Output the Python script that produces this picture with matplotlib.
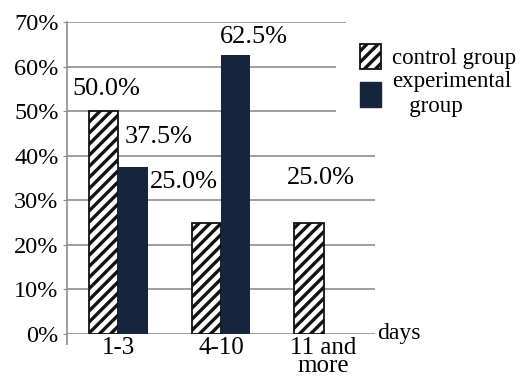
import matplotlib
matplotlib.use("Agg")
import matplotlib.pyplot as plt
from matplotlib.patches import Patch
import numpy as np

categories = ["1-3", "4-10", "11 and\nmore"]
control = [50.0, 25.0, 25.0]
experimental = [37.5, 62.5, 0.0]
control_labels = ["50.0%", "25.0%", "25.0%"]
experimental_labels = ["37.5%", "62.5%", None]
yticks = [0, 10, 20, 30, 40, 50, 60, 70]

plt.rcParams['font.family'] = ['Liberation Serif', 'DejaVu Serif']
plt.rcParams['hatch.linewidth'] = 2.4
plt.rcParams['hatch.color'] = '#14223a'

fig = plt.figure(figsize=(5.32, 3.84), dpi=100)
ax = fig.add_axes([67/532, 50/384, 308/532, 312/384])

navy = '#14253d'
x = np.arange(len(categories))
w = 0.285

ax.bar(x - w/2, control, width=w, color='white', edgecolor='#111111',
       linewidth=1.3, hatch='///', zorder=3)
ax.bar(x + w/2, experimental, width=w, color=navy, edgecolor=navy,
       linewidth=0, zorder=3)

# gridlines
grid_xmax = {0: 2.5, 10: 2.5, 20: 2.5, 30: 2.5, 40: 2.5, 50: 2.12, 60: 2.12, 70: 2.22}
for yv in yticks:
    ax.hlines(yv, -0.5, grid_xmax[yv], color='#8c8c8c', linewidth=1.2, zorder=1)

ax.set_xlim(-0.5, 2.5)
ax.set_ylim(0, 70)
ax.set_yticks(yticks)
ax.set_yticklabels([f"{v}%" for v in yticks], fontsize=17.5)
ax.set_xticks(x)
ax.set_xticklabels(categories, fontsize=18, linespacing=0.75)
ax.tick_params(axis='x', length=0, pad=2)
ax.tick_params(axis='y', length=3, color='#8c8c8c', pad=3)
ax.set_xticks([-0.5], minor=True)
ax.tick_params(axis='x', which='minor', length=8, color='#8c8c8c', width=1.2)

for s in ['top', 'right', 'bottom']:
    ax.spines[s].set_visible(False)
ax.spines['left'].set_color('#8c8c8c')
ax.spines['left'].set_linewidth(1.2)

# value labels
ctrl_pos = [(-0.12, 55.0), (0.64, 34.2), (1.97, 35.0)]
exp_pos = [(0.39, 44.2), (1.32, 66.7), None]
for lab, p in zip(control_labels, ctrl_pos):
    ax.text(p[0], p[1], lab, ha='center', va='center', fontsize=19, zorder=4)
for lab, p in zip(experimental_labels, exp_pos):
    if lab:
        ax.text(p[0], p[1], lab, ha='center', va='center', fontsize=19, zorder=4)

ax.text(2.52, 0, "days", ha='left', va='center', fontsize=17, clip_on=False)

handles = [Patch(facecolor='white', edgecolor='#111111', hatch='///', linewidth=1.3),
           Patch(facecolor=navy, edgecolor=navy)]
fig.legend(handles, ["control group", "experimental\n   group"],
           loc='upper left', bbox_to_anchor=(360/532, 1 - 44/384),
           frameon=False, fontsize=16.5, handlelength=0.9, handleheight=1.3,
           handletextpad=0.5, labelspacing=0.1, borderpad=0, borderaxespad=0)

fig.savefig("out.png", dpi=100)
